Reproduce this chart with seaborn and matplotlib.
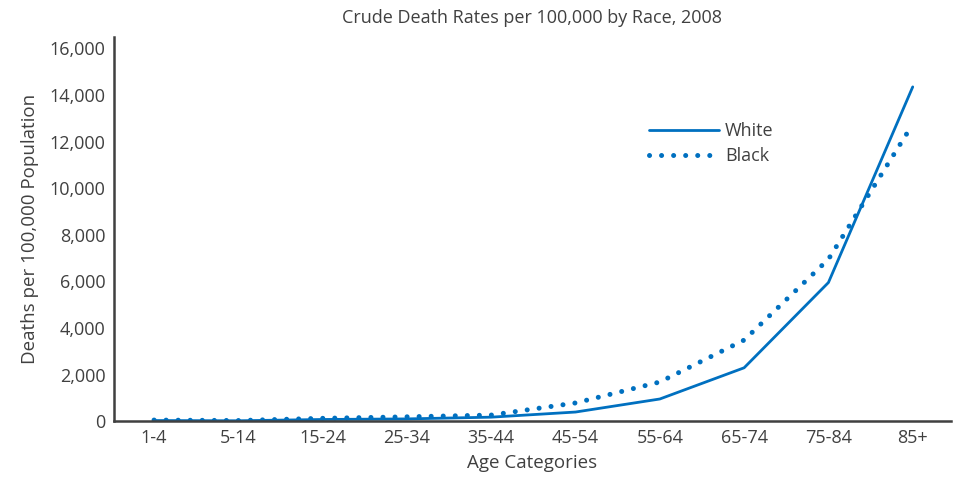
import matplotlib
matplotlib.use('Agg')
import matplotlib.pyplot as plt
import pandas as pd
import seaborn as sns

age_groups = ['1-4', '5-14', '15-24', '25-34', '35-44', '45-54', '55-64', '65-74', '75-84', '85+']
white = [25, 15, 70, 95, 170, 390, 950, 2290, 5950, 14350]
black = [45, 25, 120, 185, 260, 780, 1680, 3480, 6950, 12750]

df = pd.DataFrame({
    'age': list(range(len(age_groups))) * 2,
    'rate': white + black,
    'race': ['White'] * len(white) + ['Black'] * len(black),
})

sns.set_style('white')
plt.rcParams['font.family'] = ['Open Sans', 'DejaVu Sans']
text_color = '#404040'
line_color = '#0070C0'

fig = plt.figure(figsize=(9.54, 4.78), dpi=100)
ax = fig.add_axes([0.1195, 0.119, 0.877, 0.804])

sns.lineplot(data=df[df.race == 'White'], x='age', y='rate', ax=ax,
             color=line_color, linewidth=2.0, label='White')
sns.lineplot(data=df[df.race == 'Black'], x='age', y='rate', ax=ax,
             color=line_color, linewidth=3.6, linestyle=(0, (0.01, 2.4)),
             dash_capstyle='round', label='Black')

ax.set_xlim(-0.475, 9.45)
ax.set_ylim(0, 16500)
ax.set_xticks(range(len(age_groups)))
ax.set_xticklabels(age_groups)
ax.set_yticks(range(0, 16001, 2000))
ax.set_yticklabels([f'{v:,}' for v in range(0, 16001, 2000)])
ax.tick_params(length=0, labelsize=13, colors=text_color, pad=6)

for side in ['top', 'right']:
    ax.spines[side].set_visible(False)
for side in ['left', 'bottom']:
    ax.spines[side].set_color(text_color)
    ax.spines[side].set_linewidth(1.8)

ax.set_xlabel('Age Categories', fontsize=13.5, color=text_color, labelpad=5)
ax.set_ylabel('Deaths per 100,000 Population', fontsize=13.5, color=text_color, labelpad=8)
ax.set_title('Crude Death Rates per 100,000 by Race, 2008', fontsize=13,
             color=text_color, pad=10)

leg = ax.legend(loc='upper left', bbox_to_anchor=(0.62, 0.82), frameon=False,
                fontsize=13, handlelength=3.9, handletextpad=0.3, labelspacing=0.4)
for t in leg.get_texts():
    t.set_color(text_color)

fig.savefig('out.png', dpi=100)
